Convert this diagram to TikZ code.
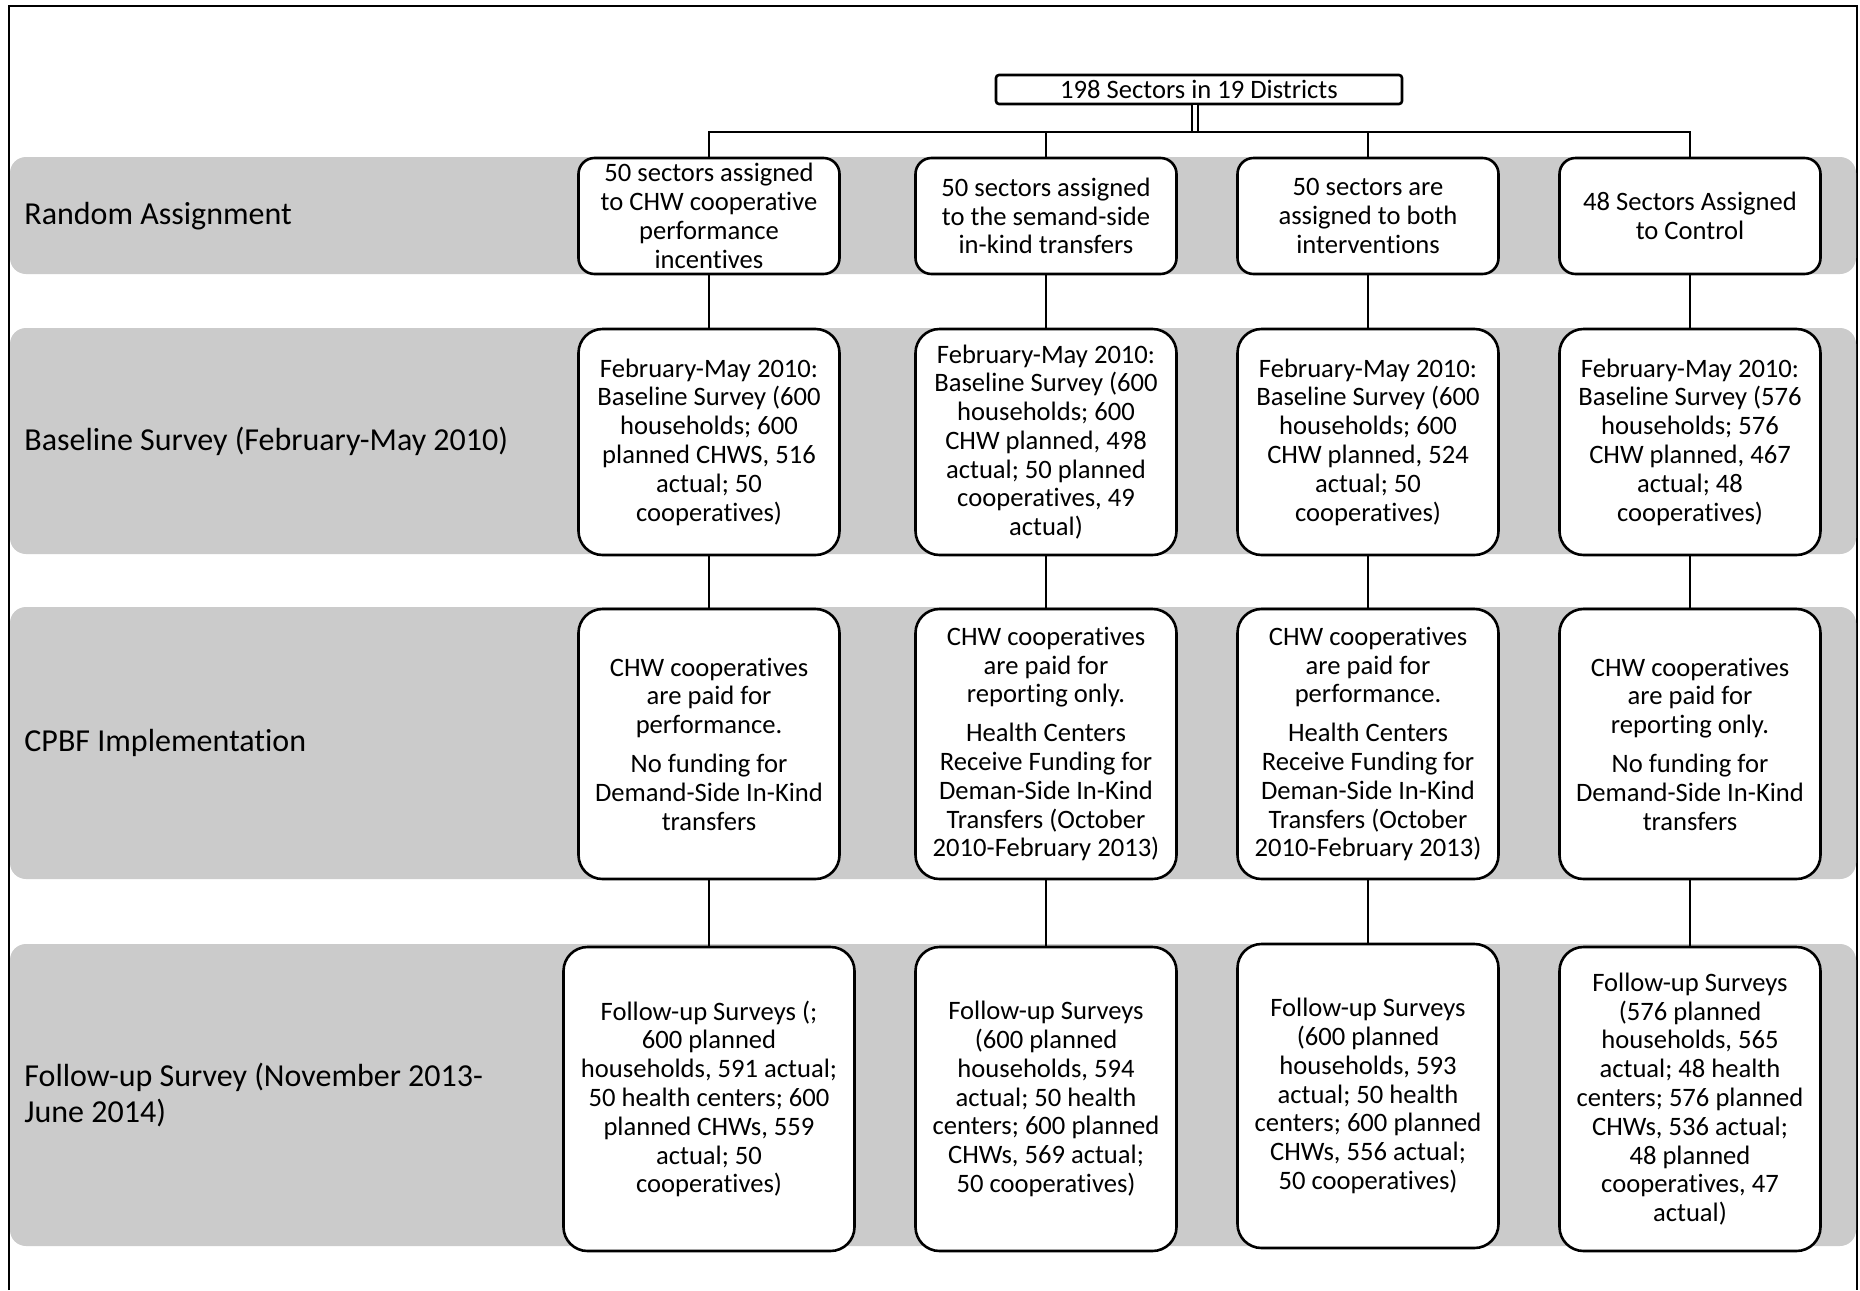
\documentclass[tikz,border=0pt]{standalone}
\usepackage{fontspec}
\setmainfont{Carlito}[RawFeature={-liga;-clig;-dlig;-calt}]
\usepackage{tikz}
\definecolor{bandgray}{RGB}{203,203,203}

\begin{document}
\begin{tikzpicture}[x=0.5pt,y=-0.5pt,
		band/.style={fill=bandgray,rounded corners=8pt},
		lane label/.style={anchor=west,align=left,inner sep=0pt,font=\fontsize{16}{17.8}\selectfont},
		main box/.style={draw,line width=1.3pt,fill=white,rounded corners=12pt,align=center,
			inner sep=0pt,minimum width=130.5pt,font=\fontsize{13.3}{14.4}\selectfont},
		top box/.style={main box,rounded corners=1.5pt,minimum width=203pt,minimum height=14.5pt},
		link/.style={draw,line width=0.9pt}]
	
	% frame and lanes
	\draw[line width=1pt] (9,1290) -- (9,6) -- (1857,6) -- (1857,1290);
	\useasboundingbox (0,0) rectangle (1860,1290);
	\fill[band] (10,157) rectangle (1856,274);
	\fill[band] (10,328) rectangle (1856,554);
	\fill[band] (10,607) rectangle (1856,879);
	\fill[band] (10,944) rectangle (1856,1246);
	
	\node[lane label] (lab1) at (24,216) {Random Assignment};
	\node[lane label] (lab2) at (24,441) {Baseline Survey (February-May 2010)};
	\node[lane label] (lab3) at (24,743) {CPBF Implementation};
	\node[lane label] (lab4) at (24,1095) {Follow-up Survey (November 2013-\\June 2014)};
	
	\node[top box] (top) at (1199,89.5) {198 Sectors in 19 Districts};
	
	% random assignment
	\node[main box,minimum height=58pt,rounded corners=8pt] (r1c1) at (709,216) {50 sectors assigned\\to CHW cooperative\\performance\\incentives};
	\node[main box,minimum height=58pt,rounded corners=8pt] (r1c2) at (1046,216) {50 sectors assigned\\to the semand-side\\in-kind transfers};
	\node[main box,minimum height=58pt,rounded corners=8pt] (r1c3) at (1368,216) {50 sectors are\\assigned to both\\interventions};
	\node[main box,minimum height=58pt,rounded corners=8pt] (r1c4) at (1690,216) {48 Sectors Assigned\\to Control};
	
	% baseline
	\node[main box,minimum height=113pt] (r2c1) at (709,442) {February-May 2010:\\Baseline Survey (600\\households; 600\\planned CHWS, 516\\actual; 50\\cooperatives)};
	\node[main box,minimum height=113pt] (r2c2) at (1046,442) {February-May 2010:\\Baseline Survey (600\\households; 600\\CHW planned, 498\\actual; 50 planned\\cooperatives, 49\\actual)};
	\node[main box,minimum height=113pt] (r2c3) at (1368,442) {February-May 2010:\\Baseline Survey (600\\households; 600\\CHW planned, 524\\actual; 50\\cooperatives)};
	\node[main box,minimum height=113pt] (r2c4) at (1690,442) {February-May 2010:\\Baseline Survey (576\\households; 576\\CHW planned, 467\\actual; 48\\cooperatives)};
	
	% implementation
	\node[main box,minimum height=135pt] (r3c1) at (709,744) {CHW cooperatives\\are paid for\\performance.\\[5pt]No funding for\\Demand-Side In-Kind\\transfers};
	\node[main box,minimum height=135pt] (r3c2) at (1046,744) {CHW cooperatives\\are paid for\\reporting only.\\[5pt]Health Centers\\Receive Funding for\\Deman-Side In-Kind\\Transfers (October\\2010-February 2013)};
	\node[main box,minimum height=135pt] (r3c3) at (1368,744) {CHW cooperatives\\are paid for\\performance.\\[5pt]Health Centers\\Receive Funding for\\Deman-Side In-Kind\\Transfers (October\\2010-February 2013)};
	\node[main box,minimum height=135pt] (r3c4) at (1690,744) {CHW cooperatives\\are paid for\\reporting only.\\[5pt]No funding for\\Demand-Side In-Kind\\transfers};
	
	% follow-up
	\node[main box,minimum height=152pt,minimum width=145.5pt] (r4c1) at (709,1099) {Follow-up Surveys (;\\600 planned\\households, 591 actual;\\50 health centers; 600\\planned CHWs, 559\\actual; 50\\cooperatives)};
	\node[main box,minimum height=152pt] (r4c2) at (1046,1099) {Follow-up Surveys\\(600 planned\\households, 594\\actual; 50 health\\centers; 600 planned\\CHWs, 569 actual;\\50 cooperatives)};
	\node[main box,minimum height=152pt] (r4c3) at (1368,1096) {Follow-up Surveys\\(600 planned\\households, 593\\actual; 50 health\\centers; 600 planned\\CHWs, 556 actual;\\50 cooperatives)};
	\node[main box,minimum height=152pt] (r4c4) at (1690,1099) {Follow-up Surveys\\(576 planned\\households, 565\\actual; 48 health\\centers; 576 planned\\CHWs, 536 actual;\\48 planned\\cooperatives, 47\\actual)};
	
	% connectors
	\coordinate (split) at (1195,132);
	\draw[double,double distance=2pt,line width=0.8pt] (top.south -| split) -- (split);
	\path[link] (r1c1.north) |- (split) -| (r1c4.north);
	\path[link] (split) -| (r1c2.north);
	\path[link] (split) -| (r1c3.north);
	\foreach \c in {1,...,4} {
		\path[link] (r1c\c) edge (r2c\c)
		(r2c\c) edge (r3c\c)
		(r3c\c) edge (r4c\c);
	}
\end{tikzpicture}
\end{document}
